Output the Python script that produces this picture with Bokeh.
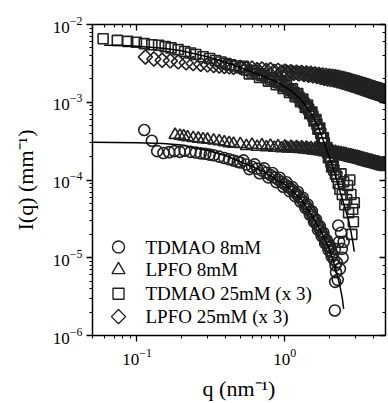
import math
from bokeh.plotting import figure
from bokeh.models import (LogAxis, CustomJSTickFormatter, Range1d, FixedTicker, LinearScale, Label)
from bokeh.embed import file_html
from bokeh.resources import INLINE

# ---------------- data ----------------
q_tdmao8 = [0.112, 0.126, 0.137, 0.151, 0.165, 0.179, 0.195, 0.21, 0.23, 0.25, 0.27, 0.29, 0.31, 0.33,
            0.36, 0.39, 0.42, 0.45, 0.48, 0.50, 0.55, 0.60, 0.65, 0.70, 0.75, 0.80, 0.85, 0.90,
            0.95, 1.00, 1.05, 1.10, 1.15, 1.20, 1.25, 1.30, 1.35, 1.40, 1.45, 1.50, 1.55, 1.60, 1.65,
            1.70, 1.75, 1.80, 1.85, 1.90, 1.95, 2.00, 2.05, 2.10, 2.15, 2.18, 2.20, 2.22, 2.25, 2.28,
            2.30, 2.33, 2.36, 2.40, 2.43, 2.46, 2.50, 2.18, 2.19,
            0.525, 0.575, 0.625, 0.675, 0.725, 0.775, 0.825, 0.875, 0.925, 0.975, 1.025, 1.075,
            1.125, 1.175, 1.225, 1.275, 1.325, 1.375, 1.425, 1.475, 1.525, 1.575, 1.625, 1.675,
            1.725, 1.775, 1.825, 1.875, 1.925, 1.975, 2.025, 2.075]
I_tdmao8 = [4.4e-4, 3.2e-4, 2.35e-4, 2.22e-4, 2.28e-4, 2.35e-4, 2.3e-4, 2.38e-4, 2.3e-4, 2.26e-4, 2.2e-4,
            2.18e-4, 2.12e-4, 2.08e-4, 2.0e-4, 1.92e-4, 1.85e-4, 1.78e-4, 1.72e-4, 1.68e-4, 1.58e-4,
            1.48e-4, 1.4e-4, 1.32e-4, 1.24e-4, 1.16e-4, 1.08e-4, 1.01e-4, 9.4e-5, 8.8e-5,
            8.2e-5, 7.7e-5, 7.1e-5, 6.6e-5, 6.1e-5, 5.6e-5, 5.1e-5, 4.6e-5, 4.2e-5, 3.8e-5, 3.4e-5,
            3.0e-5, 2.7e-5, 2.45e-5, 2.2e-5, 2.0e-5, 1.8e-5, 1.6e-5, 1.45e-5, 1.35e-5, 1.2e-5, 1.1e-5,
            9.5e-6, 1.3e-5, 8e-6, 6.5e-6, 8.7e-6, 5.2e-6, 2.6e-5, 1.6e-5, 7.2e-6, 2.1e-5, 1.3e-5,
            1.0e-5, 1.6e-5, 2.1e-6, 4.9e-6,
            1.79e-4, 1.38e-4, 1.59e-4, 1.22e-4, 1.41e-4, 1.08e-4, 1.23e-4, 9.4e-5, 1.07e-4, 8.2e-5,
            9.35e-5, 7.2e-5, 8.1e-5, 6.2e-5, 7.0e-5, 5.3e-5, 5.9e-5, 4.4e-5, 4.85e-5, 3.6e-5,
            3.96e-5, 2.9e-5, 3.1e-5, 2.3e-5, 2.55e-5, 1.9e-5, 2.1e-5, 1.53e-5, 1.68e-5, 1.26e-5,
            1.4e-5, 1.04e-5]

q_lpfo8 = [0.181, 0.195, 0.207, 0.22, 0.24, 0.26, 0.28, 0.30, 0.33, 0.36, 0.39, 0.42, 0.45,
           0.50, 0.55, 0.60, 0.65, 0.70, 0.75, 0.80, 0.85, 0.90, 0.95, 1.00, 1.05, 1.10, 1.15, 1.20,
           1.25, 1.30, 1.35, 1.40, 1.45, 1.50, 1.55, 1.60, 1.65, 1.70, 1.75, 1.80, 1.85, 1.90, 1.95,
           2.00, 2.05, 2.10, 2.15, 2.20, 2.25, 2.30, 2.35, 2.40, 2.45, 2.50, 2.55, 2.60, 2.65, 2.70,
           2.75, 2.80, 2.85, 2.90, 2.95, 3.00, 3.05, 3.10, 3.15, 3.20, 3.25, 3.30, 3.35, 3.40, 3.45,
           3.50, 3.55, 3.60, 3.65, 3.70, 3.75, 3.80, 3.85, 3.90, 3.95, 4.00, 4.05, 4.10, 4.15, 4.20,
           4.25, 4.30, 4.35, 4.40, 4.45, 4.50, 4.55, 4.60, 4.65, 4.70, 4.75, 4.80,
           1.025, 1.125, 1.225, 1.325, 1.425, 1.525, 1.625, 1.725, 1.825, 1.925, 2.025, 2.125,
           2.225, 2.325, 2.425, 2.525, 2.625, 2.725, 2.825, 2.925, 3.025, 3.125, 3.225, 3.325,
           3.425, 3.525, 3.625, 3.725, 3.825, 3.925, 4.025, 4.125, 4.225, 4.325, 4.425, 4.525,
           4.625, 4.725]
I_lpfo8 = [3.8e-4, 3.7e-4, 3.64e-4, 3.55e-4, 3.46e-4, 3.4e-4, 3.34e-4, 3.3e-4, 3.22e-4, 3.15e-4, 3.05e-4,
           2.98e-4, 2.92e-4,
           2.90e-4, 2.74e-4, 2.84e-4, 2.68e-4, 2.79e-4, 2.63e-4, 2.76e-4, 2.60e-4, 2.72e-4, 2.56e-4,
           2.70e-4, 2.54e-4, 2.68e-4, 2.52e-4, 2.66e-4, 2.50e-4, 2.64e-4, 2.47e-4, 2.61e-4, 2.44e-4,
           2.58e-4, 2.40e-4, 2.54e-4, 2.36e-4, 2.50e-4, 2.32e-4, 2.46e-4, 2.28e-4, 2.42e-4, 2.24e-4,
           2.38e-4, 2.20e-4, 2.34e-4, 2.16e-4, 2.30e-4, 2.12e-4, 2.26e-4, 2.08e-4, 2.22e-4, 2.04e-4,
           2.18e-4, 2.00e-4, 2.15e-4, 1.97e-4, 2.11e-4, 1.94e-4, 2.08e-4, 1.91e-4, 2.04e-4, 1.88e-4,
           2.01e-4, 1.85e-4, 1.98e-4, 1.82e-4, 1.95e-4, 1.79e-4, 1.92e-4, 1.76e-4, 1.89e-4, 1.73e-4,
           1.86e-4, 1.71e-4, 1.83e-4, 1.68e-4, 1.81e-4, 1.66e-4, 1.78e-4, 1.64e-4, 1.76e-4, 1.62e-4,
           1.73e-4, 1.60e-4, 1.71e-4, 1.58e-4, 1.69e-4, 1.56e-4, 1.67e-4, 1.54e-4, 1.65e-4, 1.52e-4,
           1.63e-4, 1.50e-4, 1.61e-4, 1.49e-4, 1.59e-4, 1.47e-4, 1.57e-4,
           2.61e-4, 2.59e-4, 2.57e-4, 2.55e-4, 2.52e-4, 2.48e-4, 2.44e-4, 2.40e-4, 2.36e-4, 2.32e-4,
           2.28e-4, 2.24e-4, 2.20e-4, 2.16e-4, 2.12e-4, 2.08e-4, 2.05e-4, 2.02e-4, 1.99e-4, 1.96e-4,
           1.93e-4, 1.90e-4, 1.87e-4, 1.84e-4, 1.81e-4, 1.78e-4, 1.75e-4, 1.73e-4, 1.71e-4, 1.69e-4,
           1.66e-4, 1.64e-4, 1.62e-4, 1.60e-4, 1.58e-4, 1.56e-4, 1.54e-4, 1.53e-4]

q_tdmao25 = [0.059, 0.0736, 0.0865, 0.099, 0.112, 0.126, 0.14, 0.155, 0.17, 0.19, 0.21, 0.23, 0.25, 0.28,
             0.31, 0.34, 0.37, 0.40, 0.43, 0.46, 0.50, 0.55, 0.60, 0.65, 0.70, 0.75, 0.80, 0.85, 0.90,
             0.95, 1.00, 1.05, 1.10, 1.15, 1.20, 1.25, 1.30, 1.35, 1.40, 1.45, 1.50, 1.55, 1.60, 1.65,
             1.70, 1.75, 1.80, 1.85, 1.90, 1.95, 2.00, 2.05, 2.10, 2.15, 2.20, 2.25, 2.30, 2.36, 2.40,
             2.45, 2.50, 2.55, 2.62, 2.66, 2.70, 2.75, 2.80, 2.84, 2.88, 2.91, 2.95,
             0.525, 0.575, 0.625, 0.675, 0.725, 0.775, 0.825, 0.875, 0.925, 0.975, 1.025, 1.075,
             1.125, 1.175, 1.225, 1.275, 1.325, 1.375, 1.425, 1.475, 1.525, 1.575, 1.625, 1.675,
             1.725, 1.775, 1.825, 1.875, 1.925, 1.975, 2.025, 2.075, 2.125]
I_tdmao25 = [6.56e-3, 6.25e-3, 6.07e-3, 5.9e-3, 5.67e-3, 5.5e-3, 5.4e-3, 5.2e-3, 5.0e-3, 4.75e-3, 4.5e-3,
             4.3e-3, 4.12e-3, 3.85e-3, 3.65e-3, 3.45e-3, 3.3e-3, 3.15e-3, 3.03e-3, 2.92e-3, 2.78e-3,
             2.6e-3, 2.45e-3, 2.32e-3, 2.2e-3, 2.08e-3, 1.98e-3, 1.88e-3, 1.78e-3, 1.68e-3, 1.58e-3,
             1.5e-3, 1.42e-3, 1.33e-3, 1.24e-3, 1.15e-3, 1.06e-3, 9.7e-4, 8.9e-4, 8.1e-4, 7.3e-4,
             6.6e-4, 5.9e-4, 5.2e-4, 4.6e-4, 4.0e-4, 3.5e-4, 3.0e-4, 2.6e-4, 2.25e-4, 1.95e-4, 1.7e-4,
             1.5e-4, 1.35e-4, 1.2e-4, 1.1e-4, 9e-5, 7.6e-5, 1.2e-4, 6.5e-5, 9.5e-5, 4.8e-5, 5.6e-5,
             8.5e-5, 3.8e-5, 1e-4, 6.5e-5, 2.0e-5, 4.2e-5, 2.9e-5, 5.1e-5,
             2.9e-3, 2.32e-3, 2.57e-3, 2.08e-3, 2.31e-3, 1.87e-3, 2.08e-3, 1.68e-3, 1.87e-3, 1.5e-3,
             1.66e-3, 1.34e-3, 1.485e-3, 1.18e-3, 1.29e-3, 1.02e-3, 1.1e-3, 8.55e-4, 9.2e-4, 7.1e-4,
             7.5e-4, 5.75e-4, 6.0e-4, 4.5e-4, 4.65e-4, 3.45e-4, 3.5e-4, 2.58e-4, 2.62e-4, 1.93e-4,
             1.97e-4, 1.47e-4, 1.53e-4]

q_lpfo25 = [0.114, 0.130, 0.148, 0.168, 0.19, 0.215, 0.24, 0.27, 0.30, 0.33, 0.36, 0.39, 0.42, 0.45,
            0.50, 0.55, 0.60, 0.65, 0.70, 0.75, 0.80, 0.85, 0.90, 0.95, 1.00, 1.05, 1.10, 1.15, 1.20,
            1.25, 1.30, 1.35, 1.40, 1.45, 1.50, 1.55, 1.60, 1.65, 1.70, 1.75, 1.80, 1.85, 1.90, 1.95,
            2.00, 2.05, 2.10, 2.15, 2.20, 2.25, 2.30, 2.35, 2.40, 2.45, 2.50, 2.55, 2.60, 2.65, 2.70,
            2.75, 2.80, 2.85, 2.90, 2.95, 3.00, 3.05, 3.10, 3.15, 3.20, 3.25, 3.30, 3.35, 3.40, 3.45,
            3.50, 3.55, 3.60, 3.65, 3.70, 3.75, 3.80, 3.85, 3.90, 3.95, 4.00, 4.05, 4.10, 4.15, 4.20,
            4.25, 4.30, 4.35, 4.40, 4.45, 4.50, 4.55, 4.60, 4.65, 4.70, 4.75, 4.80,
            1.025, 1.125, 1.225, 1.325, 1.425, 1.525, 1.625, 1.725, 1.825, 1.925, 2.025, 2.125,
            2.225, 2.325, 2.425, 2.525, 2.625, 2.725, 2.825, 2.925, 3.025, 3.125, 3.225, 3.325,
            3.425, 3.525, 3.625, 3.725, 3.825, 3.925, 4.025, 4.125, 4.225, 4.325, 4.425, 4.525,
            4.625, 4.725]
I_lpfo25 = [3.82e-3, 3.6e-3, 3.47e-3, 3.4e-3, 3.3e-3, 3.22e-3, 3.15e-3, 3.08e-3, 3.02e-3, 2.97e-3, 2.92e-3,
            2.88e-3, 2.85e-3, 2.82e-3,
            2.80e-3, 2.70e-3, 2.74e-3, 2.62e-3, 2.68e-3, 2.56e-3, 2.62e-3, 2.50e-3, 2.57e-3, 2.44e-3,
            2.52e-3, 2.39e-3, 2.48e-3, 2.35e-3, 2.44e-3, 2.31e-3, 2.42e-3, 2.27e-3, 2.38e-3, 2.22e-3,
            2.36e-3, 2.18e-3, 2.32e-3, 2.13e-3, 2.28e-3, 2.08e-3, 2.25e-3, 2.03e-3, 2.22e-3, 1.99e-3,
            2.19e-3, 1.95e-3, 2.16e-3, 1.92e-3, 2.13e-3, 1.88e-3, 2.10e-3, 1.84e-3, 2.06e-3, 1.80e-3,
            2.02e-3, 1.76e-3, 1.98e-3, 1.72e-3, 1.95e-3, 1.68e-3, 1.91e-3, 1.65e-3, 1.87e-3, 1.62e-3,
            1.84e-3, 1.58e-3, 1.80e-3, 1.55e-3, 1.77e-3, 1.52e-3, 1.74e-3, 1.49e-3, 1.71e-3, 1.46e-3,
            1.68e-3, 1.43e-3, 1.65e-3, 1.41e-3, 1.62e-3, 1.38e-3, 1.60e-3, 1.36e-3, 1.57e-3, 1.34e-3,
            1.55e-3, 1.32e-3, 1.52e-3, 1.30e-3, 1.50e-3, 1.28e-3, 1.48e-3, 1.26e-3, 1.46e-3, 1.24e-3,
            1.44e-3, 1.22e-3, 1.42e-3, 1.20e-3, 1.40e-3, 1.19e-3, 1.38e-3,
            2.45e-3, 2.41e-3, 2.37e-3, 2.34e-3, 2.30e-3, 2.26e-3, 2.22e-3, 2.18e-3, 2.14e-3, 2.10e-3,
            2.07e-3, 2.04e-3, 2.01e-3, 1.97e-3, 1.93e-3, 1.89e-3, 1.85e-3, 1.81e-3, 1.77e-3, 1.74e-3,
            1.71e-3, 1.68e-3, 1.65e-3, 1.62e-3, 1.59e-3, 1.56e-3, 1.53e-3, 1.50e-3, 1.48e-3, 1.46e-3,
            1.44e-3, 1.42e-3, 1.40e-3, 1.38e-3, 1.36e-3, 1.34e-3, 1.32e-3, 1.31e-3]

# model fits (solid lines)
q_fit8 = [0.05, 0.1, 0.15, 0.2, 0.3, 0.4, 0.5, 0.7, 1.0, 1.3, 1.6, 1.8, 2.0, 2.2, 2.35, 2.45, 2.5]
I_fit8 = [3.05e-4, 3.02e-4, 2.95e-4, 2.82e-4, 2.4e-4, 2.05e-4, 1.72e-4, 1.32e-4, 8.8e-5, 5.6e-5, 3.0e-5,
          2.0e-5, 1.3e-5, 7.5e-6, 4.5e-6, 3e-6, 2.2e-6]
q_fit25 = [0.06, 0.08, 0.1, 0.15, 0.2, 0.3, 0.4, 0.5, 0.7, 0.9, 1.1, 1.3, 1.5, 1.7, 1.9, 2.1, 2.3, 2.5,
           2.7, 2.8, 2.9, 2.95]
I_fit25 = [5.4e-3, 5.35e-3, 5.25e-3, 4.95e-3, 4.6e-3, 3.85e-3, 3.25e-3, 2.8e-3, 2.2e-3, 1.78e-3, 1.42e-3,
           1.06e-3, 7.3e-4, 4.6e-4, 2.6e-4, 1.5e-4, 8.5e-5, 5e-5, 3e-5, 2.2e-5, 1.5e-5, 1.2e-5]

labels = ["TDMAO 8mM", "LPFO 8mM", "TDMAO 25mM (x 3)", "LPFO 25mM (x 3)"]
x_major = [0.1, 1.0]
x_minor = [0.05, 0.06, 0.07, 0.08, 0.09, 0.2, 0.3, 0.4, 0.5, 0.6, 0.7, 0.8, 0.9, 2.0, 3.0, 4.0]

FONT = "'Liberation Serif', 'Times New Roman', serif"
INK = "#222222"

W, H = 388, 403
BL, BR, BT, BB = 92, 3, 24, 66
FW, FH = W - BL - BR, H - BT - BB

p = figure(width=W, height=H, x_axis_type="log", y_axis_type="log",
           x_range=Range1d(0.05, 4.8), y_range=Range1d(1e-6, 1e-2),
           output_backend="svg", toolbar_location=None,
           min_border_left=BL, min_border_right=BR, min_border_top=BT, min_border_bottom=BB)
p.grid.visible = False
p.outline_line_color = None
p.background_fill_color = "white"
p.extra_x_ranges = {"lx": Range1d(0, FW)}
p.extra_y_ranges = {"ly": Range1d(0, FH)}
p.extra_x_scales = {"lx": LinearScale()}
p.extra_y_scales = {"ly": LinearScale()}

mk = dict(fill_color=None, line_color=INK, line_width=1.6)
p.scatter(q_tdmao8, I_tdmao8, marker="circle", size=11, **mk)
p.scatter(q_lpfo8, I_lpfo8, marker="triangle", size=12, **mk)
p.scatter(q_tdmao25, I_tdmao25, marker="square", size=10, **mk)
p.scatter(q_lpfo25, I_lpfo25, marker="square", angle=math.pi / 4, size=10, **mk)
p.line(q_fit8, I_fit8, line_color="black", line_width=1.5)
p.line(q_fit25, I_fit25, line_color="black", line_width=1.5)

xt = FixedTicker(ticks=x_major, minor_ticks=x_minor)
p.xaxis[0].ticker = xt

for ax in (p.xaxis[0], p.yaxis[0]):
    ax.major_label_text_font = FONT
    ax.major_label_text_font_size = "17px"
    ax.major_label_text_color = "black"
    ax.axis_label_text_font = FONT
    ax.axis_label_text_font_size = "22px"
    ax.axis_label_text_font_style = "normal"
    ax.axis_label_text_color = "black"
    ax.axis_line_width = 1.5
    ax.major_tick_out = 6
    ax.major_tick_in = 0
    ax.minor_tick_out = 3
    ax.minor_tick_in = 0
    ax.major_tick_line_width = 1.3
    ax.minor_tick_line_width = 1.1

p.xaxis[0].axis_label = "q (nm\u207b\u00b9)"
p.yaxis[0].axis_label = "I(q) (mm\u207b\u00b9)"
p.xaxis[0].major_label_standoff = 7
p.xaxis[0].axis_label_standoff = 8
p.yaxis[0].major_label_standoff = 4
p.yaxis[0].axis_label_standoff = 12

common = dict(major_label_text_font_size="0px", major_tick_in=6, major_tick_out=0,
              minor_tick_in=3, minor_tick_out=0, axis_line_width=1.5, major_label_standoff=0,
              major_tick_line_width=1.3, minor_tick_line_width=1.1)
top = LogAxis(ticker=FixedTicker(ticks=x_major, minor_ticks=x_minor),
              formatter=CustomJSTickFormatter(code="return ''"), **common)
right = LogAxis(formatter=CustomJSTickFormatter(code="return ''"), **common)
p.add_layout(top, "above")
p.add_layout(right, "right")

# legend (drawn in frame pixel coordinates)
leg_rows = [89, 66, 42, 19]
leg_marks = [("circle", 12, 0.0), ("triangle", 13, 0.0), ("square", 11, 0.0), ("square", 10, math.pi / 4)]
for (m, s, a), yy, lab in zip(leg_marks, leg_rows, labels):
    p.scatter([26], [yy], marker=m, size=s, angle=a, x_range_name="lx", y_range_name="ly",
              fill_color=None, line_color=INK, line_width=1.4)
    p.add_layout(Label(x=53, y=yy, text=lab, x_range_name="lx", y_range_name="ly",
                       text_baseline="middle", text_font=FONT, text_font_size="19px",
                       text_color="black"))

open("out.html", "w").write(file_html(p, INLINE))
